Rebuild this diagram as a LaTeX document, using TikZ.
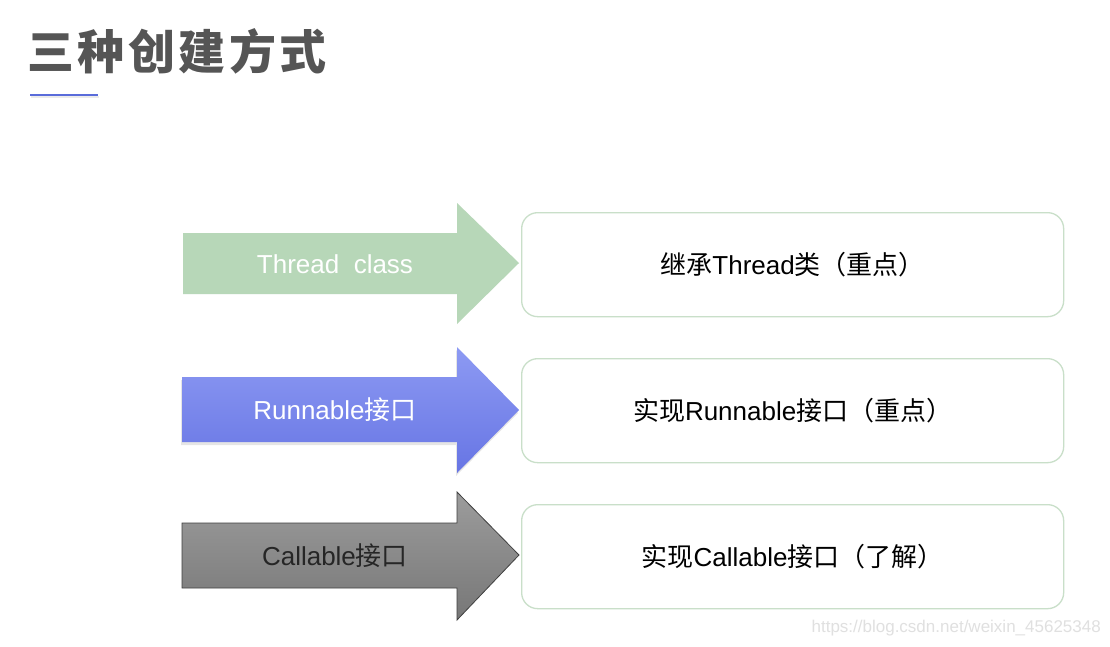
\documentclass[tikz,border=0pt]{standalone}
\usepackage{fontspec}
\setmainfont{Liberation Sans}
\newfontfamily\cjk{Noto Sans CJK SC}
\usetikzlibrary{shadings}
\definecolor{tgray}{HTML}{555555}
\definecolor{ulblue}{HTML}{5A6CDA}
\definecolor{agreen}{HTML}{B7D7B8}
\definecolor{bluetop}{HTML}{8D9AF3}
\definecolor{bluebot}{HTML}{6775E4}
\definecolor{graytop}{HTML}{9C9C9C}
\definecolor{graybot}{HTML}{777777}
\definecolor{boxline}{HTML}{C9DFC9}
\tikzset{
  boxnode/.style={draw=boxline, line width=1.3pt, rounded corners=16pt, fill=white,
    minimum width=542pt, minimum height=104pt, anchor=north west, inner sep=0pt},
  arrowtext/.style={font=\fontsize{26}{30}\selectfont, inner sep=0pt},
}
\begin{document}
\begin{tikzpicture}[x=1pt,y=-1pt]
\useasboundingbox (0,0) rectangle (1110,646);
\fill[white] (0,0) rectangle (1110,646);
% title
\node[anchor=west, text=tgray, inner sep=0pt, font=\cjk\bfseries\fontsize{47}{52}\selectfont] (title) at (27,51) {三\kern3.5pt 种\kern3.5pt 创\kern3.5pt 建\kern3.5pt 方\kern3.5pt 式};
\coordinate (ul1) at (30,95);
\coordinate (ul2) at (98,95);
\draw[black, opacity=0.08, line width=2.5pt] ([xshift=1pt,yshift=-2pt]ul1) -- ([xshift=1pt,yshift=-2pt]ul2);
\draw[ulblue, line width=2.5pt] (ul1) -- (ul2);
% arrow 1
\fill[agreen] (183,233) -- (457,233) -- (457,203) -- (519,263) -- (457,324) -- (457,294) -- (183,294) -- cycle;
\node[arrowtext, text=white] (a1) at (335,264) {Thread\ \ class};
% arrow 2 shadow + arrow
\fill[black, opacity=0.10] (181,380) -- (456,380) -- (456,350) -- (518,413) -- (456,476) -- (456,445) -- (181,445) -- cycle;
\shade[top color=bluetop, bottom color=bluebot] (182,377) -- (457,377) -- (457,347) -- (519,410) -- (457,473) -- (457,442) -- (182,442) -- cycle;
\node[arrowtext, text=white] (a2) at (335,410) {Runnable{\cjk 接口}};
% arrow 3
\shade[top color=graytop, bottom color=graybot, draw=black!75, line width=0.8pt] (182,523) -- (457,523) -- (457,492) -- (519,555) -- (457,620) -- (457,588) -- (182,588) -- cycle;
\node[arrowtext, text=black!85] (a3) at (335,556) {Callable{\cjk 接口}};
% boxes
\node[boxnode] (b1) at (521,212) {};
\node[arrowtext] (t1) at (b1.center) {{\cjk 继承}Thread{\cjk 类（重点）}};
\node[boxnode] (b2) at (521,358) {};
\node[arrowtext] (t2) at (b2.center) {{\cjk 实现}Runnable{\cjk 接口（重点）}};
\node[boxnode] (b3) at (521,504) {};
\node[arrowtext] (t3) at (b3.center) {{\cjk 实现}Callable{\cjk 接口（了解）}};
% watermark
\node[anchor=east, text=black!12, inner sep=0pt, font=\fontsize{17}{20}\selectfont] (wm) at (1101,628) {https://blog.csdn.net/weixin\_45625348};
\end{tikzpicture}
\end{document}
